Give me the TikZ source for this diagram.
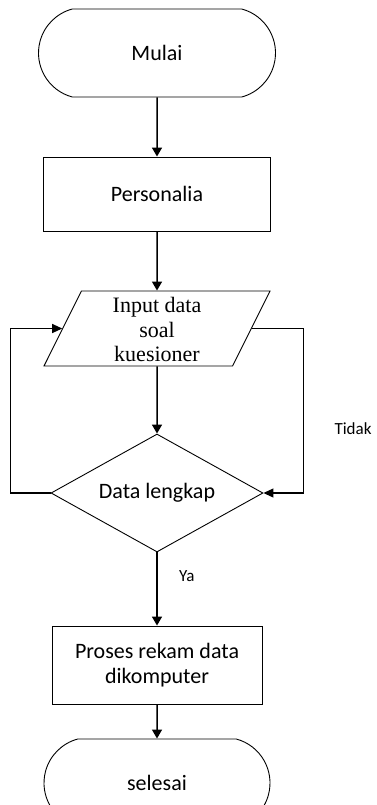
\documentclass[tikz,border=0pt]{standalone}
\usepackage{fontspec}
\setmainfont{Carlito}
\newfontfamily\inputfont{Liberation Serif}
\usetikzlibrary{arrows.meta, calc, shapes.geometric, shapes.misc}

\begin{document}
\begin{tikzpicture}[x=1pt, y=-1pt,
	terminal/.style={draw, line width=0.9pt, rounded rectangle, rounded rectangle arc length=150, minimum height=88pt, inner sep=0pt, font=\fontsize{22}{25}\selectfont},
	process/.style={draw, line width=0.9pt, rectangle, inner sep=0pt, align=center, font=\fontsize{22}{25}\selectfont},
	io/.style={draw, line width=0.9pt, trapezium, trapezium left angle=63, trapezium right angle=117, trapezium stretches body, minimum width=226pt, minimum height=75pt, inner sep=0pt, align=center, font=\inputfont\fontsize{22}{24.5}\selectfont},
	decision/.style={draw, line width=0.9pt, diamond, aspect=1.8, minimum width=212pt, minimum height=118pt, inner sep=0pt, font=\fontsize{22}{25}\selectfont},
	label/.style={font=\fontsize{17}{20}\selectfont},
	flow/.style={line width=1.5pt, -{Triangle[width=10pt, length=9pt]}},
	back/.style={line width=1.1pt, -{Triangle[width=9pt, length=10pt]}}]
	\useasboundingbox (0,0) rectangle (377,805);
	\clip (0,0) rectangle (377,805);
	\node [terminal, minimum width=237pt] (mulai) at (157,53) {Mulai};
	\node [process, minimum width=227pt, minimum height=74pt] (personalia) at (157,194) {Personalia};
	\node [io] (input) at (157,328.5) {\raisebox{-4pt}[\height][\depth]{\begin{tabular}{@{}c@{}}Input data\\soal\\kuesioner\end{tabular}}};
	\node [decision] (dec) at (157,493) {Data lengkap};
	\node [process, minimum width=210pt, minimum height=78pt] (proses) at (157,665) {Proses rekam data\\dikomputer};
	\node [terminal, minimum width=226pt] (selesai) at (157,783) {selesai};
	\draw [flow] (mulai) -- (personalia);
	\draw [flow] (personalia) -- (input);
	\draw [flow] (input) -- (dec);
	\draw [flow] (dec) -- node [label, pos=0.32, right=18pt] {Ya} (proses);
	\draw [flow] (proses) -- (selesai);
	\draw [back] (dec.west) -- ++(-40,0) |- (input.west);
	\draw [back] (input.east) -| ($(dec.east)+(40,0)$) -- (dec.east);
	\node [label] (tidak) at (353,429) {Tidak};
\end{tikzpicture}
\end{document}
